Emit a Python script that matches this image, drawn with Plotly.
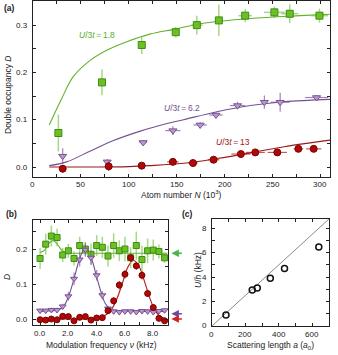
import plotly.graph_objects as go

# ---- panel (a): double occupancy vs atom number ----
green_N = [26.5, 72, 113.5, 149, 171, 194, 221.5, 252, 268, 299]
green_D = [0.072, 0.179, 0.258, 0.285, 0.300, 0.310, 0.320, 0.327, 0.324, 0.320]
green_dD = [0.039, 0.027, 0.019, 0.011, 0.02, 0.033, 0.014, 0.012, 0.02, 0.015]
green_dN = [0, 0, 0, 3, 6, 2, 7, 11, 9, 9]

purple_N = [31, 77.5, 115, 146, 174.5, 191, 213.5, 241.5, 258, 296]
purple_D = [0.023, 0.011, 0.052, 0.077, 0.089, 0.11, 0.13, 0.137, 0.137, 0.147]
purple_dD = [0.017, 0.006, 0.004, 0.009, 0.006, 0.005, 0.008, 0.014, 0.02, 0.005]
purple_dN = [0, 0, 4, 8, 7, 7, 8, 3, 10, 12]

red_N = [31, 79, 113.5, 146, 167, 188.5, 217, 232, 255, 277, 293]
red_D = [-0.0035, 0.0015, 0.003, 0.011, 0.0085, 0.0155, 0.0275, 0.031, 0.031, 0.0385, 0.0385]
red_dD = [0.008, 0.01, 0.003, 0.004, 0.003, 0.003, 0.003, 0.003, 0.003, 0.003, 0.003]
red_dN = [0, 0, 3, 6, 5, 6, 10, 10, 10, 5, 8]

# fit curves
gfit_N = [17, 30, 42, 60, 77, 98, 122, 147, 175, 227, 279, 310]
gfit_D = [0.089, 0.145, 0.191, 0.226, 0.247, 0.265, 0.281, 0.291, 0.303, 0.314, 0.32, 0.323]
pfit_N = [17, 35, 60, 84, 112, 140, 157, 192, 227, 262, 310]
pfit_D = [0.003, 0.011, 0.034, 0.056, 0.076, 0.092, 0.1, 0.117, 0.13, 0.138, 0.143]
rfit_N = [17, 60, 100, 122, 157, 192, 227, 262, 310]
rfit_D = [0.0, 0.0, 0.001, 0.003, 0.008, 0.018, 0.03, 0.043, 0.057]

# ---- panel (b): modulation spectroscopy ----
nu = [0.0, 0.4, 0.8, 1.2, 1.6, 2.0, 2.4, 2.8, 3.2, 3.6, 4.0, 4.4,
      4.8, 5.2, 5.6, 6.0, 6.4, 6.8, 7.2, 7.6, 8.0, 8.4, 8.8]
b_green = [0.173, 0.214, 0.237, 0.233, 0.183, 0.195, 0.173, 0.21, 0.2, 0.185, 0.21, 0.205,
           0.18, 0.21, 0.195, 0.2, 0.175, 0.21, 0.17, 0.195, 0.197, 0.193, 0.175]
b_green_err = [0.03, 0.03, 0.03, 0.025, 0.02, 0.02, 0.02, 0.025, 0.02, 0.03, 0.03, 0.03,
               0.03, 0.035, 0.03, 0.035, 0.03, 0.04, 0.04, 0.035, 0.03, 0.02, 0.015]
b_purple = [0.024, 0.024, 0.026, 0.026, 0.036, 0.065, 0.115, 0.17, 0.198, 0.175, 0.125, 0.068,
            0.03, 0.022, 0.02, 0.022, 0.022, 0.02, 0.023, 0.022, 0.02, 0.023, 0.025]
b_purple_err = [0.006, 0.006, 0.006, 0.006, 0.008, 0.012, 0.018, 0.02, 0.02, 0.02, 0.015, 0.012,
                0.008, 0.006, 0.006, 0.006, 0.006, 0.006, 0.006, 0.006, 0.006, 0.006, 0.006]
b_red = [-0.002, -0.003, 0.0, -0.002, 0.008, 0.007, -0.005, 0.005, 0.007, -0.003, 0.003, 0.004,
         0.024, 0.052, 0.097, 0.128, 0.175, 0.152, 0.125, 0.073, 0.033, 0.002, -0.005]
b_red_err = [0.005, 0.005, 0.005, 0.005, 0.005, 0.005, 0.005, 0.005, 0.005, 0.005, 0.005, 0.006,
             0.008, 0.01, 0.012, 0.012, 0.012, 0.012, 0.012, 0.01, 0.008, 0.006, 0.006]

bg_fit_x = [0.0, 0.3, 0.6, 0.9, 1.2, 1.5, 1.8, 2.2, 3.0, 5.0, 7.0, 9.0]
bg_fit_y = [0.19, 0.196, 0.215, 0.224, 0.215, 0.198, 0.19, 0.188, 0.188, 0.188, 0.188, 0.188]
bp_fit_x = [0.0, 0.5, 1.0, 1.5, 1.8, 2.1, 2.4, 2.7, 3.0, 3.2, 3.4, 3.7, 4.0, 4.3, 4.6, 4.9, 5.3, 6.0, 7.0, 8.0, 8.9]
bp_fit_y = [0.022, 0.023, 0.024, 0.03, 0.045, 0.075, 0.115, 0.16, 0.192, 0.2, 0.193, 0.165, 0.12,
            0.078, 0.045, 0.03, 0.023, 0.022, 0.022, 0.022, 0.022]
br_fit_x = [0.0, 2.0, 4.0, 4.5, 5.0, 5.4, 5.8, 6.2, 6.6, 7.0, 7.4, 7.8, 8.2, 8.6, 8.9]
br_fit_y = [0.0, 0.0, 0.002, 0.008, 0.025, 0.055, 0.1, 0.148, 0.168, 0.15, 0.105, 0.055, 0.02, 0.005, 0.001]

# levels marked by arrows right of panel (b)
arrow_D = [0.188, 0.015, 0.0]
arrow_col = ["#44b84a", "#6a4aa0", "#d02020"]

# ---- panel (c): U/h vs scattering length ----
scat_a = [84, 241, 271, 349, 434, 639]
U_h = [0.9, 2.94, 3.1, 3.9, 4.7, 6.45]
line_a = [0, 700]
line_U = [0, 8.75]

# tick positions and labels
ax_x = list(range(0, 325, 25))
ax_xlab = [0, 50, 100, 150, 200, 250, 300]
ax_y = [0.0, 0.05, 0.1, 0.15, 0.2, 0.25, 0.3, 0.35]
ax_ylab = [0.0, 0.1, 0.2, 0.3]
bx = list(range(0, 10))
bx_lab = [0, 2, 4, 6, 8]
by = [0.0, 0.05, 0.1, 0.15, 0.2, 0.25]
by_lab = [0.0, 0.1, 0.2]
cx = list(range(0, 800, 100))
cx_lab = [0, 200, 400, 600]
cy = list(range(0, 9))
cy_lab = [0, 2, 4, 6, 8]

GREEN, GREEN_DK, GREEN_ERR = "#6cc024", "#3c8c14", "rgba(110,190,50,0.6)"
PURPLE, PURPLE_ERR = "#7a4f96", "rgba(122,79,150,0.7)"
RED, RED_DK, RED_ERR = "#b00808", "#7a0000", "rgba(170,20,20,0.7)"
FONT = "Liberation Sans, Arial, sans-serif"

fig = go.Figure()

# panel a
fig.add_trace(go.Scatter(x=gfit_N, y=gfit_D, mode="lines", line=dict(color="#62b22c", width=1.1, shape="spline"),
                         xaxis="x", yaxis="y"))
fig.add_trace(go.Scatter(x=pfit_N, y=pfit_D, mode="lines", line=dict(color="#74518f", width=1.1, shape="spline"),
                         xaxis="x", yaxis="y"))
fig.add_trace(go.Scatter(x=rfit_N, y=rfit_D, mode="lines", line=dict(color="#9a1b1b", width=1.1, shape="spline"),
                         xaxis="x", yaxis="y"))
fig.add_trace(go.Scatter(x=green_N, y=green_D, mode="markers",
                         marker=dict(symbol="square", size=7, color=GREEN, line=dict(color=GREEN_DK, width=1)),
                         error_y=dict(type="data", array=green_dD, color=GREEN_ERR, thickness=1.5, width=0),
                         error_x=dict(type="data", array=green_dN, color=GREEN_ERR, thickness=1.5, width=0),
                         xaxis="x", yaxis="y"))
fig.add_trace(go.Scatter(x=purple_N, y=purple_D, mode="markers",
                         marker=dict(symbol="triangle-down", size=7, color="#b59cc6", line=dict(color=PURPLE, width=1)),
                         error_y=dict(type="data", array=purple_dD, color=PURPLE_ERR, thickness=1.2, width=0),
                         error_x=dict(type="data", array=purple_dN, color=PURPLE_ERR, thickness=1.2, width=0),
                         xaxis="x", yaxis="y"))
fig.add_trace(go.Scatter(x=red_N, y=red_D, mode="markers",
                         marker=dict(symbol="circle", size=7, color=RED, line=dict(color=RED_DK, width=1)),
                         error_y=dict(type="data", array=red_dD, color=RED_ERR, thickness=1.2, width=0),
                         error_x=dict(type="data", array=red_dN, color=RED_ERR, thickness=1.2, width=0),
                         xaxis="x", yaxis="y"))

# panel b
fig.add_trace(go.Scatter(x=bg_fit_x, y=bg_fit_y, mode="lines", line=dict(color="#62b22c", width=1.1, shape="spline"),
                         xaxis="x2", yaxis="y2"))
fig.add_trace(go.Scatter(x=bp_fit_x, y=bp_fit_y, mode="lines", line=dict(color="#74518f", width=1.1, shape="spline"),
                         xaxis="x2", yaxis="y2"))
fig.add_trace(go.Scatter(x=br_fit_x, y=br_fit_y, mode="lines", line=dict(color="#b01818", width=1.1, shape="spline"),
                         xaxis="x2", yaxis="y2"))
fig.add_trace(go.Scatter(x=nu, y=b_green, mode="markers",
                         marker=dict(symbol="square", size=6, color=GREEN, line=dict(color=GREEN_DK, width=1)),
                         error_y=dict(type="data", array=b_green_err, color=GREEN_ERR, thickness=1.5, width=0),
                         xaxis="x2", yaxis="y2"))
fig.add_trace(go.Scatter(x=nu, y=b_purple, mode="markers",
                         marker=dict(symbol="triangle-down", size=6, color="#b59cc6", line=dict(color=PURPLE, width=1)),
                         error_y=dict(type="data", array=b_purple_err, color=PURPLE_ERR, thickness=1.2, width=0),
                         xaxis="x2", yaxis="y2"))
fig.add_trace(go.Scatter(x=nu, y=b_red, mode="markers",
                         marker=dict(symbol="circle", size=6, color=RED, line=dict(color=RED_DK, width=1)),
                         error_y=dict(type="data", array=b_red_err, color=RED_ERR, thickness=1.2, width=0),
                         xaxis="x2", yaxis="y2"))

# panel c
fig.add_trace(go.Scatter(x=line_a, y=line_U, mode="lines", line=dict(color="#8a8a8a", width=1),
                         xaxis="x3", yaxis="y3"))
fig.add_trace(go.Scatter(x=scat_a, y=U_h, mode="markers",
                         marker=dict(symbol="circle-open", size=6, color="#111", line=dict(width=1.5)),
                         xaxis="x3", yaxis="y3"))


def ax(**kw):
    d = dict(showline=True, linecolor="#222", linewidth=1, mirror="allticks", ticks="inside",
             ticklen=3, tickcolor="#222", showgrid=False, zeroline=False, showticklabels=False,
             tickmode="array")
    d.update(kw)
    return d


fig.update_layout(
    width=338, height=355, margin=dict(l=0, r=0, t=0, b=0),
    paper_bgcolor="white", plot_bgcolor="white", showlegend=False,
    font=dict(family=FONT, size=8, color="#222"),
    xaxis=ax(domain=[0.0976, 0.9763], range=[0, 310], tickvals=ax_x, anchor="y"),
    yaxis=ax(domain=[0.5014, 0.9972], range=[-0.021, 0.351], tickvals=ax_y, anchor="x"),
    xaxis2=ax(domain=[0.0976, 0.497], range=[-0.5, 9.04], tickvals=bx, anchor="y2"),
    yaxis2=ax(domain=[0.0845, 0.3803], range=[-0.017, 0.283], tickvals=by, anchor="x2"),
    xaxis3=ax(domain=[0.627, 0.9734], range=[0, 700], tickvals=cx, anchor="y3"),
    yaxis3=ax(domain=[0.0817, 0.3831], range=[0, 8.75], tickvals=cy, anchor="x3"),
)

TICKFONT = dict(family=FONT, size=8, color="#222")

# tick labels placed through the axes
for xa, ya, vals, fmt, shift in [("x", "y", ax_xlab, "{}", -7), ("x2", "y2", bx_lab, "{:.1f}", -8),
                                 ("x3", "y3", cx_lab, "{}", -9)]:
    for v in vals:
        fig.add_annotation(x=v, y=0, xref=xa, yref=ya + " domain", text=fmt.format(v), showarrow=False,
                           xanchor="center", yanchor="middle", yshift=shift, font=TICKFONT)
for xa, ya, vals, fmt, shift in [("x", "y", ax_ylab, "{:.1f}", -3), ("x2", "y2", by_lab, "{:.1f}", -3),
                                 ("x3", "y3", cy_lab, "{}", -3)]:
    for v in vals:
        fig.add_annotation(x=0, y=v, xref=xa + " domain", yref=ya, text=fmt.format(v), showarrow=False,
                           xanchor="right", yanchor="middle", xshift=shift, font=TICKFONT)


def txt(x, y, s, **kw):
    d = dict(x=x / 338, y=1 - y / 355, xref="paper", yref="paper", text=s, showarrow=False,
             xanchor="center", yanchor="middle", font=dict(family=FONT, size=8.5, color="#222"))
    d.update(kw)
    fig.add_annotation(**d)


# panel labels
txt(9, 8, "<b>(a)</b>")
txt(11, 214, "<b>(b)</b>")
txt(188, 214, "<b>(c)</b>")

# axis titles
txt(8, 95, "Double occupancy <i>D</i>", textangle=-90)
txt(181, 194, "Atom number <i>N</i> (10<sup>3</sup>)")
txt(7, 277, "<i>D</i>", textangle=-90)
txt(101, 345, "Modulation frequency <i>ν</i> (kHz)")
txt(198, 270, "<i>U</i>/<i>h</i> (kHz)", textangle=-90)
txt(270, 345, "Scattering length <i>a</i> (<i>a</i><sub>0</sub>)")

# curve labels
txt(97, 35, "<i>U</i>/3<i>t</i>\u2009=\u20091.8", font=dict(family=FONT, size=8.5, color="#5cac2a"))
txt(182, 108, "<i>U</i>/3<i>t</i>\u2009=\u20096.2", font=dict(family=FONT, size=8.5, color="#74518f"))
txt(233, 142, "<i>U</i>/3<i>t</i>\u2009=\u200913", font=dict(family=FONT, size=8.5, color="#a01818"))

# arrows to the right of panel (b), pointing back at the plot
for yv, col in zip(arrow_D, arrow_col):
    fig.add_annotation(x=1.025, y=yv, xref="x2 domain", yref="y2", ax=12, ay=0, axref="pixel", ayref="pixel",
                       text="", showarrow=True, arrowhead=2, arrowsize=1, arrowwidth=1.5, arrowcolor=col)

# the page template keeps the browser's default body margin; drop it so the figure fills the window
fig.write_html("out.html", config={"displayModeBar": False},
               post_script="document.body.style.margin='0';document.body.style.overflow='hidden';")
